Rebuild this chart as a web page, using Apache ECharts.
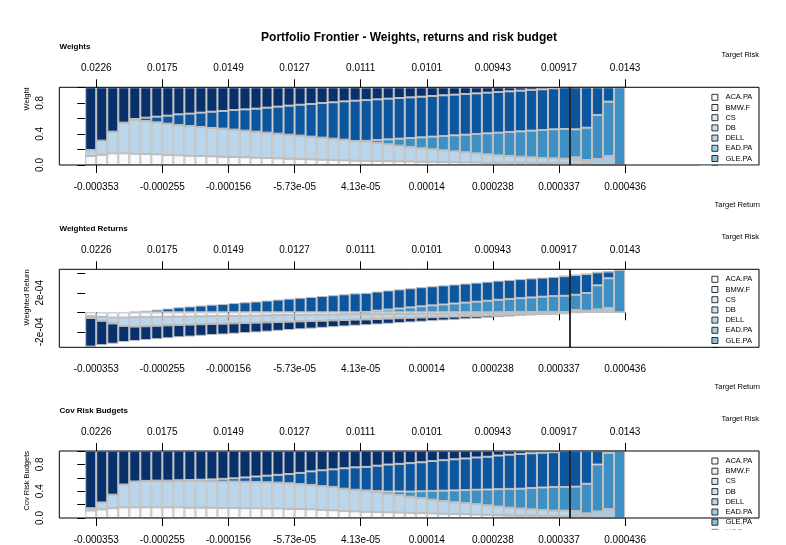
<!DOCTYPE html>
<html><head><meta charset="utf-8">
<script src="https://cdn.jsdelivr.net/npm/echarts@6/dist/echarts.min.js"></script>
<style>html,body{margin:0;padding:0;background:#fff}#c{width:786px;height:545px}</style>
</head><body><div id="c"></div>
<script>
// ---------------- data ----------------
const chartTitle = 'Portfolio Frontier - Weights, returns and risk budget';
const assetNames = ['ACA.PA','BMW.F','CS','DB','DELL','EAD.PA','GLE.PA','HOG','Asset 10','Asset 13','Asset 15'];
const legendNames = ['ACA.PA','BMW.F','CS','DB','DELL','EAD.PA','GLE.PA','HOG'];
const tickAt = [1, 7, 13, 19, 25, 31, 37, 43, 49];
const targetRisk = ['0.0226','0.0175','0.0149','0.0127','0.0111','0.0101','0.00943','0.00917','0.0143'];
const targetReturn = ['-0.000353','-0.000255','-0.000156','-5.73e-05','4.13e-05','0.00014','0.000238','0.000337','0.000436'];
const minRiskBar = 44;
const weightTicks = [0, 0.2, 0.4, 0.6, 0.8, 1.0];
const weightLabels = [0, 0.4, 0.8];
const returnTicks = [-2, 0, 2, 4];      // units of 1e-04
const returnLabels = [-2, 2];

const zero = [0,0,0,0,0,0,0,0,0,0,0,0,0,0,0,0,0,0,0,0,0,0,0,0,0,0,0,0,0,0,0,0,0,0,0,0,0,0,0,0,0,0,0,0,0,0,0,0,0];

// Weights
const wACA = [0.116,0.133,0.150,0.150,0.146,0.142,0.137,0.129,0.124,0.120,0.116,0.112,0.107,0.103,0.099,0.095,0.090,0.086,0.082,0.077,0.073,0.069,0.064,0.060,0.056,0.054,0.051,0.049,0.047,0.045,0.043,0.041,0.039,0.037,0.034,0.032,0.030,0.024,0.020,0.017,0.013,0.010,0.007,0.004,0,0,0,0,0];
const wBMW = [0,0,0,0,0,0,0,0,0,0,0,0,0,0,0,0,0,0,0,0,0,0,0,0,0,0,0,0,0,0,0,0,0,0,0,0,0,0.008,0.012,0.015,0.018,0.020,0.022,0.024,0.015,0.010,0,0,0];
const wDELL = [0.077,0.180,0.279,0.395,0.433,0.424,0.412,0.403,0.391,0.382,0.373,0.364,0.361,0.352,0.343,0.334,0.326,0.317,0.308,0.301,0.292,0.283,0.275,0.266,0.253,0.249,0.232,0.217,0.202,0.187,0.172,0.161,0.150,0.139,0.129,0.118,0.107,0.092,0.084,0.075,0.068,0.060,0.057,0.054,0.030,0.015,0,0,0];
const wEAD = [0,0,0,0,0,0,0,0,0,0,0,0,0,0,0,0,0,0,0,0,0,0,0,0,0,0,0,0,0,0,0,0,0,0,0,0,0,0,0,0,0,0,0,0,0.054,0.039,0.077,0.116,0];
const wMid = [0,0,0,0,0,0,0,0,0,0,0,0,0,0,0,0,0,0,0,0,0,0,0,0,0,0.008,0.039,0.064,0.090,0.115,0.141,0.163,0.184,0.206,0.227,0.249,0.271,0.292,0.309,0.326,0.343,0.360,0.373,0.381,0.360,0.416,0.567,0.699,1.000];
const wBlue = [0,0,0,0,0.013,0.043,0.073,0.103,0.137,0.159,0.185,0.210,0.227,0.253,0.274,0.296,0.322,0.348,0.374,0.398,0.420,0.446,0.468,0.493,0.519,0.524,0.523,0.524,0.523,0.524,0.523,0.523,0.524,0.523,0.524,0.523,0.523,0.524,0.523,0.524,0.524,0.524,0.528,0.537,0.541,0.520,0.356,0.185,0];
const wDark = [0.807,0.687,0.571,0.455,0.408,0.391,0.378,0.365,0.348,0.339,0.326,0.314,0.305,0.292,0.284,0.275,0.262,0.249,0.236,0.224,0.215,0.202,0.193,0.181,0.172,0.163,0.155,0.146,0.138,0.129,0.121,0.112,0.103,0.095,0.086,0.078,0.069,0.060,0.052,0.043,0.034,0.026,0.013,0,0,0,0,0,0];

// Weighted returns (units of 1e-04)
const rACA = [-0.418,-0.479,-0.540,-0.540,-0.526,-0.511,-0.493,-0.464,-0.446,-0.432,-0.418,-0.403,-0.385,-0.371,-0.356,-0.342,-0.324,-0.310,-0.295,-0.277,-0.263,-0.248,-0.230,-0.216,-0.202,-0.194,-0.184,-0.176,-0.169,-0.162,-0.155,-0.148,-0.140,-0.133,-0.122,-0.115,-0.108,-0.086,-0.072,-0.061,-0.047,-0.036,-0.025,-0.014,0,0,0,0,0];
const rBMW = [0,0,0,0,0,0,0,0,0,0,0,0,0,0,0,0,0,0,0,0,0,0,0,0,0,0,0,0,0,0,0,0,0,0,0,0,0,0.012,0.018,0.023,0.027,0.030,0.033,0.036,0.023,0.015,0,0,0];
const rDELL = [-0.166,-0.389,-0.603,-0.853,-0.935,-0.916,-0.890,-0.870,-0.845,-0.825,-0.806,-0.786,-0.780,-0.760,-0.741,-0.721,-0.704,-0.685,-0.665,-0.650,-0.631,-0.611,-0.594,-0.575,-0.546,-0.538,-0.501,-0.469,-0.436,-0.404,-0.372,-0.348,-0.324,-0.300,-0.279,-0.255,-0.231,-0.199,-0.181,-0.162,-0.147,-0.130,-0.123,-0.117,-0.065,-0.032,0,0,0];
const rEAD = [0,0,0,0,0,0,0,0,0,0,0,0,0,0,0,0,0,0,0,0,0,0,0,0,0,0,0,0,0,0,0,0,0,0,0,0,0,0,0,0,0,0,0,0,0.205,0.148,0.293,0.441,0];
const rMid = [0,0,0,0,0,0,0,0,0,0,0,0,0,0,0,0,0,0,0,0,0,0,0,0,0,0.035,0.170,0.279,0.392,0.501,0.615,0.711,0.802,0.898,0.990,1.086,1.182,1.273,1.347,1.421,1.495,1.570,1.626,1.661,1.570,1.814,2.472,3.048,4.360];
const rBlue = [0,0,0,0,0.049,0.161,0.273,0.385,0.512,0.595,0.692,0.785,0.849,0.946,1.025,1.107,1.204,1.302,1.399,1.489,1.571,1.668,1.750,1.844,1.941,1.960,1.956,1.960,1.956,1.960,1.956,1.956,1.960,1.956,1.960,1.956,1.956,1.960,1.956,1.960,1.960,1.960,1.975,2.008,2.023,1.945,1.331,0.692,0];
const rDark = [-2.937,-2.501,-2.078,-1.656,-1.485,-1.423,-1.376,-1.329,-1.267,-1.234,-1.187,-1.143,-1.110,-1.063,-1.034,-1.001,-0.954,-0.906,-0.859,-0.815,-0.783,-0.735,-0.703,-0.659,-0.626,-0.593,-0.564,-0.531,-0.502,-0.470,-0.440,-0.408,-0.375,-0.346,-0.313,-0.284,-0.251,-0.218,-0.189,-0.157,-0.124,-0.095,-0.047,0,0,0,0,0,0];

// Covariance risk budgets
const bACA = [0.112,0.129,0.146,0.159,0.159,0.159,0.159,0.159,0.159,0.155,0.155,0.155,0.150,0.150,0.146,0.146,0.142,0.142,0.137,0.133,0.129,0.120,0.116,0.107,0.099,0.094,0.090,0.086,0.082,0.077,0.073,0.069,0.064,0.060,0.056,0.052,0.047,0.040,0.034,0.028,0.022,0.017,0.011,0.006,0,0,0,0,0];
const bBMW = [0,0,0,0,0,0,0,0,0,0,0,0,0,0,0,0,0,0,0,0,0,0,0,0,0,0,0,0,0,0,0,0,0,0,0,0,0,0.006,0.010,0.013,0.016,0.018,0.020,0.022,0.030,0.015,0,0,0];
const bDELL = [0.034,0.103,0.202,0.341,0.386,0.395,0.395,0.395,0.395,0.399,0.395,0.395,0.395,0.395,0.395,0.391,0.391,0.386,0.382,0.373,0.365,0.356,0.348,0.330,0.322,0.313,0.296,0.275,0.258,0.240,0.223,0.206,0.189,0.176,0.167,0.155,0.142,0.126,0.111,0.100,0.091,0.085,0.080,0.083,0.030,0.015,0,0,0];
const bEAD = [0,0,0,0,0,0,0,0,0,0,0,0,0,0,0,0,0,0,0,0,0,0,0,0,0,0,0,0,0,0,0,0,0,0,0,0,0,0,0,0,0,0,0,0,0.043,0.039,0.098,0.133,0];
const bMid = [0,0,0,0,0,0,0,0,0,0,0,0,0,0,0,0,0,0,0,0,0,0,0,0,0,0.004,0.017,0.034,0.056,0.077,0.103,0.129,0.155,0.176,0.193,0.215,0.236,0.258,0.279,0.296,0.318,0.335,0.352,0.352,0.365,0.442,0.700,0.837,1.000];
const bBlue = [0,0,0,0,0,0,0.004,0.004,0.009,0.013,0.021,0.026,0.039,0.047,0.064,0.082,0.099,0.116,0.137,0.167,0.202,0.236,0.262,0.305,0.335,0.352,0.378,0.403,0.412,0.425,0.433,0.446,0.455,0.464,0.472,0.481,0.489,0.502,0.511,0.519,0.519,0.519,0.519,0.536,0.532,0.489,0.202,0.030,0];
const bDark = [0.854,0.768,0.652,0.500,0.455,0.446,0.442,0.442,0.437,0.433,0.429,0.424,0.416,0.408,0.395,0.381,0.368,0.356,0.344,0.327,0.304,0.288,0.274,0.258,0.244,0.237,0.219,0.202,0.192,0.181,0.168,0.150,0.137,0.124,0.112,0.097,0.086,0.068,0.055,0.044,0.034,0.026,0.018,0,0,0,0,0,0];

// ---------------- styles / layout ----------------
const assetColors = ['#F7FBFF','#E9F2FA','#DBE9F6','#CDE0F1','#BBD6EB','#A4CCE3','#88BEDC','#6BAED6','#3D8FC4','#0C56A0','#08306B'];
const FONT = '"Liberation Sans", Arial, Helvetica, sans-serif';
const panels = [
  {label:'Weights', yName:'Weight', top:87.3, height:77.7, yMin:0, yMax:1,
   ticks:weightTicks, labels:weightLabels, fmt:v=>v.toFixed(1),
   data:[wACA,wBMW,zero,zero,wDELL,wEAD,zero,zero,wMid,wBlue,wDark]},
  {label:'Weighted Returns', yName:'Weighted Return', top:269.3, height:78, yMin:-3.59, yMax:4.41,
   ticks:returnTicks, labels:returnLabels, fmt:v=>v+'e-04',
   data:[rACA,rBMW,zero,zero,rDELL,rEAD,zero,zero,rMid,rBlue,rDark]},
  {label:'Cov Risk Budgets', yName:'Cov Risk Budgets', top:451, height:77.7, yMin:0, yMax:1,
   ticks:weightTicks, labels:weightLabels, fmt:v=>v.toFixed(1),
   data:[bACA,bBMW,zero,zero,bDELL,bEAD,zero,zero,bMid,bBlue,bDark]}
];

const grids=[], xAxes=[], yAxes=[], series=[], legends=[], graphics=[];
graphics.push({type:'text', x:409, y:38, z:100,
  style:{text:chartTitle, fontFamily:FONT, fontSize:12, fontWeight:'bold', fill:'#000', align:'center', verticalAlign:'middle'}});

panels.forEach((p,k)=>{
  const bottom = p.top + p.height;
  grids.push({left:59.3, width:699.7, top:p.top, height:p.height, show:true,
    borderColor:'#000', borderWidth:1, backgroundColor:'transparent', z:5});
  const lab = {customValues:tickAt, fontSize:10, fontFamily:FONT, color:'#000'};
  const xCommon = {type:'value', gridIndex:k, min:-2.352, max:61.152,
    axisLine:{show:false}, splitLine:{show:false},
    axisTick:{show:true, length:8, lineStyle:{color:'#000', width:1}, customValues:tickAt}};
  xAxes.push(Object.assign({}, xCommon, {position:'bottom',
    axisLabel:Object.assign({}, lab, {margin:17, formatter:v=>targetReturn[tickAt.indexOf(Math.round(v))]})}));
  xAxes.push(Object.assign({}, xCommon, {position:'top',
    axisLabel:Object.assign({}, lab, {margin:14, formatter:v=>targetRisk[tickAt.indexOf(Math.round(v))]})}));
  yAxes.push({type:'value', gridIndex:k, min:p.yMin, max:p.yMax,
    axisLine:{show:false}, splitLine:{show:false},
    axisTick:{show:true, length:8, lineStyle:{color:'#000', width:1}, customValues:p.ticks},
    axisLabel:{customValues:p.labels, formatter:p.fmt, rotate:90, margin:14, fontSize:10, fontFamily:FONT, color:'#000'}});
  p.data.forEach((arr,j)=>{
    // value first so that the stacked dimension is the y value
    const s = {type:'bar', name:assetNames[j], xAxisIndex:2*k, yAxisIndex:k, stack:'s'+k,
      encode:{x:1, y:0},
      barWidth:'100%', itemStyle:{color:assetColors[j], borderColor:'#BEBEBE', borderWidth:1},
      emphasis:{disabled:true}, data:arr.map((v,i)=>[v, i+0.5])};
    if (j === p.data.length-1) {
      s.markLine = {silent:true, symbol:['none','none'], label:{show:false}, animation:false,
        lineStyle:{color:'#000', width:1.6, type:'solid'}, data:[{xAxis:minRiskBar}]};
    }
    series.push(s);
  });
  legends.push({data:legendNames, orient:'vertical', left:711.5, top:p.top+5, padding:0,
    itemWidth:6, itemHeight:6, itemGap:0.2, icon:'rect',
    itemStyle:{borderColor:'#000', borderWidth:0.8},
    textStyle:{fontSize:7.5, fontFamily:FONT, color:'#000', lineHeight:10, padding:[0,0,0,2.5]}});
  // legend is clipped by the plot box
  graphics.push({type:'rect', z:100, shape:{x:700, y:bottom+0.8, width:58.5, height:14}, style:{fill:'#fff'}});
  graphics.push({type:'text', x:59.5, y:p.top-40.3, z:100,
    style:{text:p.label, fontFamily:FONT, fontSize:8, fontWeight:'bold', fill:'#000', align:'left', verticalAlign:'middle'}});
  graphics.push({type:'text', x:759, y:p.top-32.3, z:100,
    style:{text:'Target Risk', fontFamily:FONT, fontSize:7.5, fill:'#000', align:'right', verticalAlign:'middle'}});
  graphics.push({type:'text', x:760, y:bottom+40, z:100,
    style:{text:'Target Return', fontFamily:FONT, fontSize:7.5, fill:'#000', align:'right', verticalAlign:'middle'}});
  graphics.push({type:'text', x:26.5, y:p.top, z:100, rotation:Math.PI/2,
    style:{text:p.yName, fontFamily:FONT, fontSize:7.5, fill:'#000', align:'right', verticalAlign:'middle'}});
});

const chart = echarts.init(document.getElementById('c'), null, {renderer:'canvas', width:786, height:545});
chart.setOption({
  animation:false,
  backgroundColor:'#fff',
  grid:grids, xAxis:xAxes, yAxis:yAxes, series:series, legend:legends, graphic:graphics
});
</script>
</body></html>
